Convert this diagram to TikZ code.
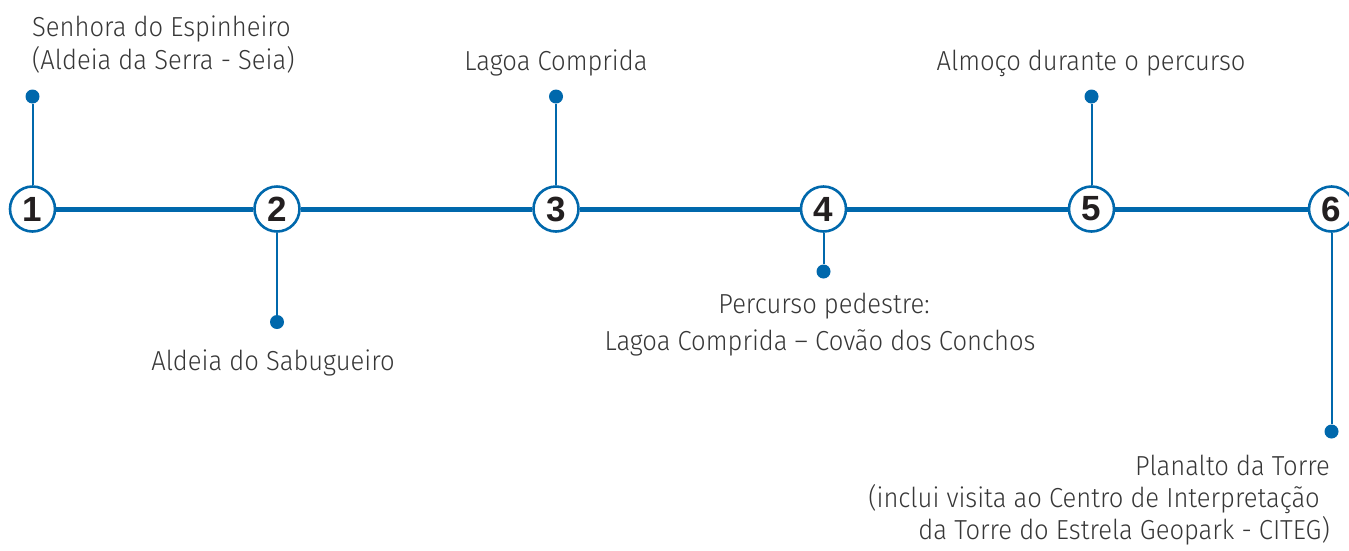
\documentclass[tikz,border=0pt]{standalone}
\usepackage{fontspec}
\setmainfont{Fira Sans Light}[FakeStretch=0.93]
\newfontfamily\digitfont{Liberation Sans}
\definecolor{tlblue}{RGB}{0,104,172}
\definecolor{tltext}{RGB}{55,55,55}
\definecolor{tldigit}{RGB}{35,31,32}
\begin{document}
\begin{tikzpicture}[x=1pt,y=-1pt,
  stop/.style={circle,draw=tlblue,line width=2.6pt,fill=white,minimum size=45pt,inner sep=0pt,
    font=\digitfont\bfseries\fontsize{35}{35}\selectfont,text=tldigit},
  pin/.style={circle,fill=tlblue,minimum size=14pt,inner sep=0pt},
  stem/.style={draw=tlblue,line width=2pt},
  mainline/.style={draw=tlblue,line width=5pt},
  lbl/.style={inner sep=0pt,font=\fontsize{27.5}{32}\selectfont,text=tltext}]
\useasboundingbox (0,0) rectangle (1349,550);
% stops
\node[stop] (s1) at (32.5,209) {1};
\node[stop] (s2) at (277,209) {2};
\node[stop] (s3) at (556,209) {3};
\node[stop] (s4) at (823.5,209) {4};
\node[stop] (s5) at (1091.5,209) {5};
\node[stop] (s6) at (1331.5,209) {6};
% pins
\node[pin] (p1) at (32.5,96.5) {};
\node[pin] (p2) at (277,322) {};
\node[pin] (p3) at (556,96.5) {};
\node[pin] (p4) at (823.5,271.5) {};
\node[pin] (p5) at (1091.5,96.5) {};
\node[pin] (p6) at (1331.5,431.5) {};
% main line
\draw[mainline] (s1) -- (s2);
\draw[mainline] (s2) -- (s3);
\draw[mainline] (s3) -- (s4);
\draw[mainline] (s4) -- (s5);
\draw[mainline] (s5) -- (s6);
% stems
\draw[stem] (s1) -- (p1);
\draw[stem] (s2) -- (p2);
\draw[stem] (s3) -- (p3);
\draw[stem] (s4) -- (p4);
\draw[stem] (s5) -- (p5);
\draw[stem] (s6) -- (p6);
% labels
\node[lbl,anchor=base west] (t1a) at (32,36) {Senhora do Espinheiro};
\node[lbl,anchor=base west] (t1b) at (32,69) {(Aldeia da Serra - Seia)};
\node[lbl,anchor=base] (t2) at (273,370) {Aldeia do Sabugueiro};
\node[lbl,anchor=base] (t3) at (556,70) {Lagoa Comprida};
\node[lbl,anchor=base] (t4a) at (824,313) {Percurso pedestre:};
\node[lbl,anchor=base] (t4b) at (820,350) {Lagoa Comprida – Covão dos Conchos};
\node[lbl,anchor=base] (t5) at (1091,70) {Almoço durante o percurso};
\node[lbl,anchor=base east] (t6a) at (1330,475) {Planalto da Torre};
\node[lbl,anchor=base east] (t6b) at (1320,507) {(inclui visita ao Centro de Interpretação};
\node[lbl,anchor=base east] (t6c) at (1330,539) {da Torre do Estrela Geopark - CITEG)};
\end{tikzpicture}
\end{document}
